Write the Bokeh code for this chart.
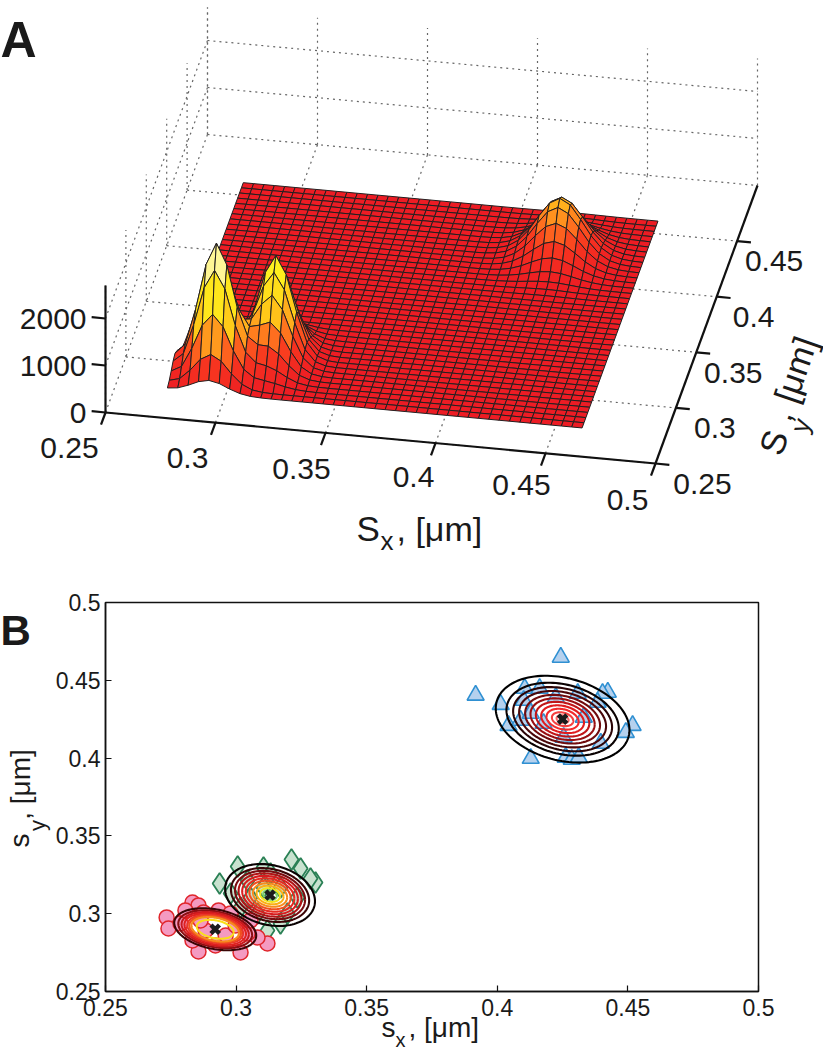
import numpy as np
from bokeh.plotting import figure
from bokeh.layouts import column
from bokeh.models import Range1d, FixedTicker
from bokeh.core.properties import value
from bokeh.embed import file_html
from bokeh.resources import INLINE

FONT = "Liberation Sans"

# ---------- panel A: tick values and labels
x_ticks = [0.25, 0.3, 0.35, 0.4, 0.45, 0.5]
y_ticks = [0.25, 0.3, 0.35, 0.4, 0.45]
y_grid = [0.25, 0.3, 0.35, 0.4, 0.45, 0.5]
z_ticks = [0, 1000, 2000]
x_tick_labels = ["0.25", "0.3", "0.35", "0.4", "0.45", "0.5"]
y_tick_labels = ["0.25", "0.3", "0.35", "0.4", "0.45"]
z_tick_labels = ["0", "1000", "2000"]
z_top = 2700

# surface extent (axis units) and number of cells
surf_x = [0.2735, 0.462]
surf_y = [0.275, 0.461]
surf_cells = 40

# peak heights and their profiles
peak_height = [2750, 2150, 1200]
peak_x_start = [0, 4, 25]   # first grid column of each x profile
peak_y_start = [0, 2, 24]   # first grid row of each y profile
peak_x_profile = [
    [0.12, 0.20, 0.48, 0.83, 1.0, 0.83, 0.48, 0.20, 0.06, 0.015, 0.003],
    [0.008, 0.044, 0.17, 0.46, 0.82, 1.0, 0.82, 0.46, 0.17, 0.044, 0.008],
    [0.006, 0.024, 0.075, 0.19, 0.39, 0.66, 0.90, 1.0, 0.90, 0.66, 0.39, 0.19, 0.075, 0.024, 0.006],
]
peak_y_profile = [
    [0.10, 0.26, 0.53, 0.83, 1.0, 0.83, 0.53, 0.26, 0.10, 0.03, 0.01],
    [0.06, 0.15, 0.29, 0.48, 0.70, 0.88, 1.0, 0.88, 0.70, 0.48, 0.29, 0.15, 0.06],
    [0.009, 0.027, 0.069, 0.157, 0.31, 0.51, 0.74, 0.93, 1.0, 0.93, 0.74, 0.51, 0.31, 0.157, 0.069, 0.027, 0.009],
]
# surface colour against height
colour_z = [0, 500, 1075, 1200, 1850, 2500, 2700]
colour_g = [28, 55, 170, 200, 240, 250, 255]
colour_b = [36, 32, 30, 25, 30, 200, 255]

# ---------- panel B: samples
circle_x = [.2734, .2741, .2833, .2856, .2856, .3017, .3120, .3082, .2833, .2787, .2933, .2875, .2979, .3044, .2883, .2960, .2864, .2998, .2806, .2921, .3055]
circle_y = [.2976, .2905, .3072, .3053, .2757, .2751, .2809, .2847, .2828, .2937, .3021, .3008, .3002, .2873, .2892, .2860, .2957, .2924, .3021, .2796, .2957]
diamond_x = [.2937, .3006, .3212, .3304, .3285, .3105, .3247, .2979, .3132, .3044, .3235, .3170, .3120, .3017, .3082, .3197, .3105, .3170, .3055]
diamond_y = [.3194, .3304, .3349, .3201, .3227, .3297, .3291, .3130, .3259, .3214, .3104, .2937, .2892, .3040, .3002, .3002, .3169, .3169, .3104]
triangle_x = [.4243, .3917, .4013, .4105, .4162, .4423, .4403, .4518, .4492, .4043, .4128, .4262, .4285, .4312, .4396, .4224, .4308, .4101, .4089, .4128, .4254, .4177, .4331, .4384]
triangle_y = [.4648, .4404, .4345, .4448, .4448, .4423, .4416, .4210, .4165, .4210, .3998, .4005, .3992, .4005, .4095, .4390, .4416, .4371, .4243, .4288, .4133, .4223, .4262, .4358]

# cluster centres and outermost contour: half width, half height, correlation
center_x = [0.292, 0.313, 0.425]
center_y = [0.290, 0.312, 0.425]
contour_hw = [0.0157, 0.0172, 0.0256]
contour_hh = [0.0135, 0.0199, 0.0279]
contour_rho = [-0.30, -0.20, -0.25]
# relative size of every contour, with its colour
contour_scale = [
    [1.0, 0.90, 0.82, 0.75, 0.68, 0.63, 0.58, 0.45],
    [1.0, 0.87, 0.78, 0.70, 0.62, 0.54, 0.46, 0.38, 0.30, 0.22, 0.15],
    [1.0, 0.84, 0.74, 0.65, 0.56, 0.48, 0.40, 0.32, 0.24, 0.16, 0.09],
]
contour_color = [
    ["#3a0505", "#8a0f12", "#c91a1e", "#e0211f", "#e8362a", "#f0501e", "#f68a1e", "#f9e01a"],
    ["#0a0202", "#3a0505", "#7a0c10", "#b01416", "#d81c1e", "#e62a22", "#f0501e", "#f68a1e", "#fbb016", "#f3e41c", "#7fd06a"],
    ["#000000", "#0a0202", "#2a0406", "#4a0709", "#700b0d", "#980f12", "#c01518", "#e01c1f", "#f22a2c", "#f5403f", "#f76a6a"],
]

# ---------- affine view of the 3-D box, in page pixels
ORIGIN = np.array([105.0, 412.0])
U_VEC = np.array([550.0, 51.0])
V_VEC = np.array([102.0, -278.0])
Z_PX = -0.047


def project(x, y, z=0.0):
    x, y, z = np.broadcast_arrays(np.asarray(x, float), np.asarray(y, float), np.asarray(z, float))
    u = (x - 0.25) / 0.25
    v = (y - 0.25) / 0.25
    return ORIGIN[0] + U_VEC[0] * u + V_VEC[0] * v, ORIGIN[1] + U_VEC[1] * u + V_VEC[1] * v + Z_PX * z


A_H = 1050
B_H = 490
W = 823

pa = figure(width=W, height=A_H, x_range=Range1d(0, W), y_range=Range1d(A_H, 0),
            x_axis_location=None, y_axis_location=None, toolbar_location=None,
            output_backend="svg", min_border=0, outline_line_color=None)
pa.grid.visible = False

# --- dotted grid on floor and walls
gx, gy = [], []


def seg(a, b):
    p0 = project(*a)
    p1 = project(*b)
    gx.append([float(p0[0]), float(p1[0])])
    gy.append([float(p0[1]), float(p1[1])])


for t in x_ticks[:]:
    seg((t, 0.25, 0), (t, 0.5, 0))
    seg((t, 0.5, 0), (t, 0.5, z_top))
for t in y_grid:
    seg((0.25, t, 0), (0.5, t, 0))
    seg((0.25, t, 0), (0.25, t, z_top))
for zt in z_ticks[1:]:
    seg((0.25, 0.25, zt), (0.25, 0.5, zt))
    seg((0.25, 0.5, zt), (0.5, 0.5, zt))
pa.multi_line(gx, gy, line_color="#666666", line_width=1.2, line_dash="2 4")

# --- surface
nx = surf_cells + 1
grid_x = np.linspace(surf_x[0], surf_x[1], nx)
grid_y = np.linspace(surf_y[0], surf_y[1], nx)
Z = np.zeros((nx, nx))
for h, xs, ys, px, py in zip(peak_height, peak_x_start, peak_y_start, peak_x_profile, peak_y_profile):
    for i, a in enumerate(px):
        for j, b in enumerate(py):
            Z[ys + j, xs + i] += h * a * b
XX, YY = np.meshgrid(grid_x, grid_y)
SX, SY = project(XX, YY, Z)


def colour(z):
    g = np.interp(z, colour_z, colour_g)
    b = np.interp(z, colour_z, colour_b)
    r = 237 + 18 * min(z / 800.0, 1.0)
    return "#%02x%02x%02x" % (int(r), int(g), int(b))


cells = []
for j in range(surf_cells):
    for i in range(surf_cells):
        depth = grid_y[j] * 278 - grid_x[i] * 51
        cells.append((depth, i, j))
cells.sort(key=lambda c: -c[0])
qx, qy, qc = [], [], []
for _, i, j in cells:
    qx.append([float(SX[j, i]), float(SX[j, i + 1]), float(SX[j + 1, i + 1]), float(SX[j + 1, i])])
    qy.append([float(SY[j, i]), float(SY[j, i + 1]), float(SY[j + 1, i + 1]), float(SY[j + 1, i])])
    qc.append(colour(Z[[j, j, j + 1, j + 1], [i, i + 1, i + 1, i]].mean()))
pa.patches(qx, qy, fill_color=qc, line_color="#231f20", line_width=1.0)

# --- axes lines and ticks
ax_x, ax_y = [], []


def axseg(p0, p1):
    ax_x.append([float(p0[0]), float(p1[0])])
    ax_y.append([float(p0[1]), float(p1[1])])


axseg(project(0.25, 0.25), project(0.5, 0.25))
axseg(project(0.5, 0.25), project(0.5, 0.5))
axseg(project(0.25, 0.25, 0), project(0.25, 0.25, z_top))
for t in x_ticks:
    a = project(t, 0.25)
    b = project(t, 0.25 - 0.011)
    axseg(a, b)
for t in y_ticks:
    a = project(0.5, t)
    b = project(0.5 + 0.0063, t)
    axseg(a, b)
for zt in z_ticks:
    a = project(0.25, 0.25, zt)
    b = project(0.25 - 0.0063, 0.25, zt)
    axseg(a, b)
pa.multi_line(ax_x, ax_y, line_color="#111111", line_width=2.2)


def txt(xs, ys, labels, size, align="center", baseline="middle", angle=0, style="normal", color="#1a1a1a"):
    pa.text([float(v) for v in xs], [float(v) for v in ys], text=labels, text_font=value(FONT), text_font_size=value(size), text_align=align,
            text_baseline=baseline, angle=angle, angle_units="deg", text_font_style=style, text_color=color)


# tick labels, offset from their ticks
tx, ty = project(x_ticks, 0.25)
txt(tx + np.array([-36, -28, -24, -22, -24, -28]), ty + np.array([35, 35, 36, 34, 32, 36]), x_tick_labels, "30px")
tx, ty = project(0.5, y_ticks)
txt(tx + np.array([47, 39, 37, 37, 37]), ty + np.array([20, 20, 21, 20, 20]), y_tick_labels, "30px")
tx, ty = project(0.25, 0.25, z_ticks)
txt(tx - 19, ty, z_tick_labels, "30px", align="right")

# axis titles and panel letters
txt([356], [528], ["S"], "35px", align="left")
txt([380], [540], ["x"], "26px", align="left")
txt([396], [528], [", [\u03bcm]"], "34px", align="left")
txt([773], [442], ["S"], "35px", angle=71)
txt([800], [425], ["y"], "26px", angle=71)
txt([792], [378], [", [\u03bcm]"], "34px", angle=71)
txt([0], [39], ["A"], "50px", align="left", baseline="alphabetic", style="bold")
txt([0], [630], ["B"], "42px", align="left", baseline="alphabetic", style="bold")
txt([381], [1027], ["s"], "28px", align="left")
txt([395], [1039], ["x"], "20px", align="left")
txt([408], [1027], [", [\u03bcm]"], "28px", align="left")
txt([19], [840], ["s"], "28px", angle=90)
txt([37], [825], ["y"], "22px", angle=90)
txt([20], [784], [", [\u03bcm]"], "28px", angle=90)

# ---------- panel B
pb = figure(width=W, height=B_H, x_range=Range1d(0.25, 0.5), y_range=Range1d(0.25, 0.5),
            toolbar_location=None, output_backend="svg",
            frame_width=653, frame_height=389,
            min_border_left=105, min_border_right=65, min_border_top=42, min_border_bottom=59,
            outline_line_color="#111111", outline_line_width=1.5,
            background_fill_color=None, border_fill_color=None)
pb.grid.visible = False
for ax, labs in ((pb.xaxis[0], x_tick_labels), (pb.yaxis[0], x_tick_labels)):
    ax.ticker = FixedTicker(ticks=x_ticks)
    ax.major_label_overrides = {t: l for t, l in zip(x_ticks, labs)}
    ax.major_tick_in = 6
    ax.major_tick_out = 0
    ax.minor_tick_line_color = None
    ax.axis_line_color = "#111111"
    ax.axis_line_width = 1.5
    ax.major_tick_line_color = "#111111"
    ax.major_tick_line_width = 1.2
    ax.major_label_text_font = FONT
    ax.major_label_text_font_size = "23px"
    ax.major_label_text_color = "#1a1a1a"
    ax.major_label_standoff = 5
pb.xaxis[0].major_label_standoff = 7
pb.yaxis[0].major_label_orientation = "horizontal"

pb.scatter(triangle_x, triangle_y, marker="triangle", size=17, fill_color="#b5d1ee", line_color="#2f90d2", line_width=1.6)
pb.scatter(diamond_x, diamond_y, marker="diamond", size=21, fill_color="#c8e2cf", line_color="#2a8055", line_width=1.8)
pb.scatter(circle_x, circle_y, marker="circle", size=15, fill_color="#f49ac1", line_color="#e0262c", line_width=1.5)

t = np.linspace(0, 2 * np.pi, 120)
for cx, cy, hw, hh, rho, scales, cols in zip(center_x, center_y, contour_hw, contour_hh, contour_rho, contour_scale, contour_color):
    for s, c in zip(scales, cols):
        ex = cx + s * hw * np.cos(t)
        ey = cy + s * hh * (rho * np.cos(t) + np.sqrt(1 - rho ** 2) * np.sin(t))
        pb.line(ex, ey, line_color=c, line_width=2.1)
pb.scatter(center_x, center_y, marker="x", size=12, line_color="#1c1c1c", line_width=4.5)

page = column(pa, column(pb, margin=(-B_H, 0, 0, 0)), spacing=0, margin=0)
open("out.html", "w").write(file_html(page, INLINE))
